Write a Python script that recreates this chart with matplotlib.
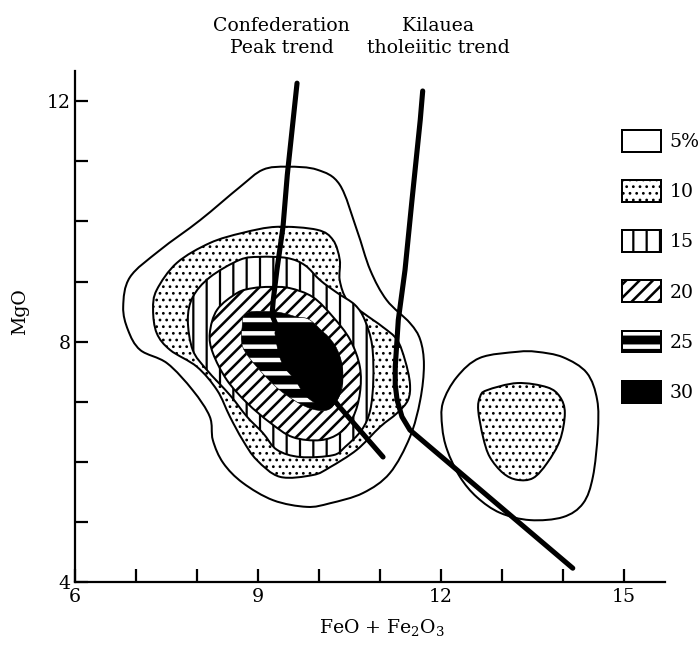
import numpy as np
import matplotlib
matplotlib.use("Agg")
import matplotlib.pyplot as plt
from matplotlib.path import Path
from matplotlib.patches import PathPatch, Patch

plt.rcParams['font.family'] = ['DejaVu Serif']
plt.rcParams['mathtext.fontset'] = 'dejavuserif'
plt.rcParams['hatch.color'] = 'black'

# =========================
# Data: contour outlines (FeO+Fe2O3, MgO)
# =========================
c05_x = [9.08, 9.48, 9.97, 10.34, 10.62, 10.84, 11.11, 11.49, 11.66, 11.72, 11.66, 11.49, 11.16, 10.72,
         10.18, 9.80, 9.25, 8.75, 8.43, 8.26, 8.21, 7.93, 7.51, 7.07, 6.87, 6.79, 6.90, 7.39, 8.05, 8.70]
c05_y = [10.86, 10.91, 10.86, 10.61, 9.86, 9.19, 8.69, 8.31, 8.03, 7.61, 7.03, 6.41, 5.81, 5.48,
         5.31, 5.25, 5.36, 5.65, 5.98, 6.36, 6.75, 7.19, 7.64, 7.86, 8.19, 8.58, 9.07, 9.52, 10.02, 10.57]

c10_x = [9.31, 9.97, 10.23, 10.34, 10.34, 10.46, 10.72, 11.05, 11.28, 11.41, 11.49, 11.46, 11.28, 11.00,
         10.62, 10.18, 9.90, 9.36, 8.98, 8.75, 8.54, 8.33, 8.00, 7.56, 7.34, 7.28, 7.34, 7.67, 8.21, 8.75]
c10_y = [9.91, 9.86, 9.69, 9.36, 9.02, 8.69, 8.48, 8.24, 8.03, 7.69, 7.31, 7.03, 6.81, 6.58,
         6.20, 5.91, 5.78, 5.75, 6.03, 6.36, 6.75, 7.19, 7.58, 7.86, 8.14, 8.53, 8.86, 9.31, 9.64, 9.81]

c15_x = [8.70, 9.03, 9.48, 9.77, 10.02, 10.30, 10.59, 10.75, 10.87, 10.89, 10.84, 10.70,
         10.43, 10.23, 9.69, 9.31, 9.08, 8.82, 8.54, 8.16, 7.93, 7.85, 7.93, 8.21]
c15_y = [9.36, 9.41, 9.39, 9.27, 9.02, 8.81, 8.61, 8.36, 7.94, 7.36, 6.86, 6.53,
         6.25, 6.11, 6.08, 6.20, 6.48, 6.75, 7.11, 7.53, 7.86, 8.36, 8.74, 9.07]

c20_x = [9.20, 9.52, 9.90, 10.23, 10.51, 10.67, 10.67, 10.56, 10.34, 10.02,
         9.57, 9.20, 8.82, 8.49, 8.26, 8.21, 8.33, 8.66, 8.92]
c20_y = [8.91, 8.89, 8.74, 8.41, 8.03, 7.58, 7.14, 6.75, 6.48, 6.36,
         6.41, 6.65, 6.98, 7.36, 7.81, 8.14, 8.53, 8.81, 8.89]

c25_x = [8.82, 9.31, 9.64, 9.85, 10.13, 10.34, 10.39, 10.30, 10.13, 9.80, 9.36, 8.98, 8.75, 8.74]
c25_y = [8.48, 8.49, 8.41, 8.36, 8.08, 7.74, 7.31, 7.03, 6.86, 6.91, 7.19, 7.58, 7.91, 8.24]

c30_x = [9.31, 9.69, 10.02, 10.26, 10.38, 10.38, 10.30, 10.15, 9.98, 9.77, 9.61, 9.41, 9.31]
c30_y = [8.23, 8.26, 8.19, 7.94, 7.61, 7.28, 7.03, 6.88, 6.95, 7.11, 7.36, 7.61, 7.94]

# second (high-iron) cluster
r05_x = [13.25, 12.64, 12.26, 12.03, 12.02, 12.10, 12.31, 12.59, 12.97, 13.46,
         14.00, 14.33, 14.49, 14.57, 14.56, 14.39, 14.00, 13.57]
r05_y = [7.83, 7.73, 7.41, 6.98, 6.58, 6.20, 5.75, 5.41, 5.15, 5.03,
         5.08, 5.31, 5.75, 6.48, 7.03, 7.48, 7.74, 7.83]

r10_x = [12.75, 13.25, 13.74, 13.95, 14.03, 13.95, 13.74, 13.51, 13.25, 13.02, 12.80, 12.69, 12.61, 12.64]
r10_y = [7.19, 7.31, 7.24, 7.08, 6.81, 6.36, 5.98, 5.73, 5.70, 5.81, 6.08, 6.41, 6.86, 7.08]

# trends
conf_x = [9.64, 9.48, 9.41, 9.31, 9.25, 9.23, 9.30, 9.44, 10.34, 11.05]
conf_y = [12.30, 10.77, 9.91, 9.19, 8.69, 8.44, 8.27, 8.03, 6.91, 6.08]
kil_x = [11.70, 11.66, 11.52, 11.41, 11.30, 11.25, 11.25, 11.28, 11.36, 11.49, 14.16]
kil_y = [12.17, 11.69, 10.31, 9.19, 8.36, 7.58, 7.28, 7.03, 6.75, 6.53, 4.23]

levels = ["5%", "10", "15", "20", "25", "30"]
hatches = [None, "..", "|", "//", "-", None]
faces = ["white", "white", "white", "white", "white", "black"]
hatch_lw = [1.0, 1.3, 2.0, 2.3, 8.0, 1.0]


def smooth_path(xs, ys):
    # closed Catmull-Rom outline drawn as cubic Bezier segments
    p = np.column_stack([xs, ys])
    n = len(p)
    verts = [p[0]]
    codes = [Path.MOVETO]
    for i in range(n):
        p0, p1, p2, p3 = p[i - 1], p[i], p[(i + 1) % n], p[(i + 2) % n]
        verts += [p1 + (p2 - p0) / 6, p2 - (p3 - p1) / 6, p2]
        codes += [Path.CURVE4] * 3
    verts.append(p[0])
    codes.append(Path.CLOSEPOLY)
    return Path(verts, codes)


def make_patch(k, path=None, lw=1.8):
    plt.rcParams['hatch.linewidth'] = hatch_lw[k]
    if path is None:
        p = Patch(facecolor=faces[k], edgecolor='black', hatch=hatches[k], linewidth=lw)
    else:
        p = PathPatch(path, facecolor=faces[k], edgecolor='black', hatch=hatches[k], linewidth=lw)
    if hasattr(p, 'set_hatch_linewidth'):
        p.set_hatch_linewidth(hatch_lw[k])
    return p


# =========================
# Plot
# =========================
fig = plt.figure(figsize=(8.75, 8.0625), dpi=80)
ax = fig.add_axes([75 / 700, 63 / 645, 590 / 700, 511 / 645])

regions = [(0, c05_x, c05_y, 1.8), (1, c10_x, c10_y, 1.8), (2, c15_x, c15_y, 1.8),
           (3, c20_x, c20_y, 1.8), (4, c25_x, c25_y, 0.5), (5, c30_x, c30_y, 0.5),
           (0, r05_x, r05_y, 1.8), (1, r10_x, r10_y, 1.8)]
for k, xs, ys, lw in regions:
    ax.add_patch(make_patch(k, smooth_path(xs, ys), lw=lw))

ax.plot(conf_x, conf_y, color='black', lw=4.6, solid_capstyle='round', solid_joinstyle='round')
ax.plot(kil_x, kil_y, color='black', lw=4.6, solid_capstyle='round', solid_joinstyle='round')

ax.set_xlim(6, 6 + 590 / 61)
ax.set_ylim(4, 4 + 511 / 60.1)
for s in ['top', 'right']:
    ax.spines[s].set_visible(False)
for s in ['left', 'bottom']:
    ax.spines[s].set_linewidth(2.0)

xt = list(range(6, 16))
yt = list(range(4, 13))
ax.set_xticks(xt)
ax.set_xticklabels([str(v) if v % 3 == 0 else "" for v in xt])
ax.set_yticks(yt)
ax.set_yticklabels([str(v) if v % 4 == 0 else "" for v in yt])
ax.tick_params(axis='both', direction='in', length=11.5, width=2.0, labelsize=17)
ax.tick_params(axis='x', pad=5)
ax.tick_params(axis='y', pad=4)

ax.set_xlabel("FeO + Fe$_2$O$_3$", fontsize=17)
ax.xaxis.set_label_coords(0.52, -0.068)
ax.set_ylabel("MgO", fontsize=17)
ax.yaxis.set_label_coords(-0.078, 0.53)

ax.text(9.39, 13.40, "Confederation\nPeak trend", ha='center', va='top', fontsize=17, linespacing=1.3)
ax.text(11.95, 13.40, "Kilauea\ntholeiitic trend", ha='center', va='top', fontsize=17, linespacing=1.3)

handles = [make_patch(k) for k in range(len(levels))]
leg = fig.legend(handles, levels, loc='upper left', bbox_to_anchor=(622 / 700, 1 - 130 / 645),
                 frameon=False, fontsize=17, borderpad=0, borderaxespad=0,
                 handlelength=2.06, handleheight=1.4, labelspacing=1.5, handletextpad=0.45)
for k, p in enumerate(leg.get_patches()):
    if hasattr(p, 'set_hatch_linewidth'):
        p.set_hatch_linewidth(hatch_lw[k])

fig.savefig("out.png", dpi=80)
